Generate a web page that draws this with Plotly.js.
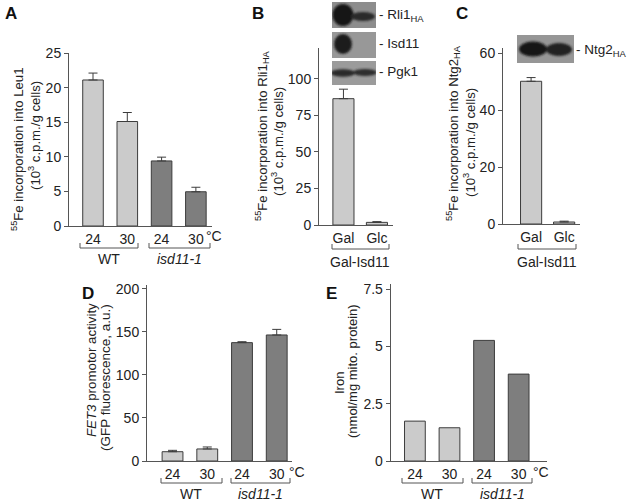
<!DOCTYPE html>
<html>
<head>
<meta charset="utf-8">
<script src="https://cdn.plot.ly/plotly-3.0.1.min.js"></script>
<style>
  html, body { margin: 0; padding: 0; background: #fff; }
  #chart { width: 628px; height: 502px; }
</style>
</head>
<body>
<div id="chart"></div>
<script>
// ---------------- DATA ----------------
const tempLabels = ['24', '30', '24', '30'];
const mediumLabels = ['Gal', 'Glc'];

const leu1Values = [21.1, 15.1, 9.4, 4.95];      // panel A
const leu1Errors = [1.0, 1.3, 0.55, 0.65];

const rli1Values = [86.5, 1.8];                  // panel B
const rli1Errors = [6.5, 0.5];

const ntg2Values = [50.2, 0.7];                  // panel C
const ntg2Errors = [1.3, 0.3];

const fet3Values = [10.8, 14.0, 137.6, 146.5];   // panel D
const fet3Errors = [1.6, 2.3, 1.1, 6.5];

const ironValues = [1.74, 1.45, 5.26, 3.79];     // panel E

// ---------------- STYLE ----------------
const W = 628, H = 502;
const LIGHT = '#cbcbcb', DARK = '#7e7e7e', EDGE = '#3c3c3c', AX = '#555555';
const FONT = 'Liberation Sans, Arial, Helvetica, sans-serif';
const groupColors = [LIGHT, LIGHT, DARK, DARK];
const px = x => x / W;
const py = y => 1 - y / H;
const xdom = (l, r) => [px(l), px(r)];
const ydom = (t, b) => [py(b), py(t)];
const idx = arr => arr.map((_, i) => i);

function barTrace(vals, errs, colors, width, xa, ya) {
  const t = {
    type: 'bar', x: idx(vals), y: vals, width: width,
    marker: { color: colors, line: { color: EDGE, width: 1 } },
    xaxis: xa, yaxis: ya, hoverinfo: 'skip', showlegend: false
  };
  if (errs) {
    t.error_y = { type: 'data', symmetric: false, array: errs,
      arrayminus: errs.map(() => 0), color: EDGE, thickness: 1, width: 4.5 };
  }
  return t;
}

const data = [
  barTrace(leu1Values, leu1Errors, groupColors, 0.6, 'x', 'y'),
  barTrace(rli1Values, rli1Errors, [LIGHT, LIGHT], 0.63, 'x2', 'y2'),
  barTrace(ntg2Values, ntg2Errors, [LIGHT, LIGHT], 0.64, 'x3', 'y3'),
  barTrace(fet3Values, fet3Errors, groupColors, 0.6, 'x4', 'y4'),
  barTrace(ironValues, null, groupColors, 0.6, 'x5', 'y5')
];

const tickFont = { family: FONT, size: 14, color: '#222' };
function xAxis(dom, range, labels, anchor) {
  return { domain: dom, range: range, anchor: anchor, showline: true, linecolor: AX,
    linewidth: 1, ticks: '', tickvals: idx(labels), ticktext: labels, tickfont: tickFont,
    showgrid: false, zeroline: false, fixedrange: true, automargin: false };
}
function yAxis(dom, range, tickvals, ticktext, anchor) {
  return { domain: dom, range: range, anchor: anchor, showline: true, linecolor: AX,
    linewidth: 1, ticks: 'outside', ticklen: 4, tickcolor: AX, tickwidth: 1,
    tickvals: tickvals, ticktext: ticktext, tickfont: tickFont,
    showgrid: false, zeroline: false, fixedrange: true, automargin: false };
}

const ann = [];
function note(text, x, y, opts) {
  ann.push(Object.assign({ text: text, x: px(x), y: py(y), xref: 'paper', yref: 'paper',
    showarrow: false, xanchor: 'center', yanchor: 'middle',
    font: { family: FONT, size: 14, color: '#222' } }, opts || {}));
}
function letter(t, x, y) { note('<b>' + t + '</b>', x, y, { font: { family: FONT, size: 17, color: '#111' } }); }
function vtitle(t, x, y, size) { note(t, x, y, { textangle: -90, font: { family: FONT, size: size || 13.2, color: '#222' } }); }

// panel letters
letter('A', 11, 14); letter('B', 258, 14); letter('C', 462, 14);
letter('D', 88, 293); letter('E', 331, 293);

// y titles
vtitle('<sup>55</sup>Fe incorporation into Leu1', 18, 149);
vtitle('(10<sup>3</sup> c.p.m./g cells)', 34, 136);
vtitle('<sup>55</sup>Fe incorporation into Rli1<sub>HA</sub>', 262, 136);
vtitle('(10<sup>3</sup> c.p.m./g cells)', 278, 142);
vtitle('<sup>55</sup>Fe incorporation into Ntg2<sub>HA</sub>', 453, 133);
vtitle('(10<sup>3</sup> c.p.m./g cells)', 470, 142);
vtitle('<i>FET3</i> promotor activity', 91, 370, 13.3);
vtitle('(GFP fluorescence, a.u.)', 105, 378, 13.5);
vtitle('Iron', 339, 383, 13);
vtitle('(nmol/mg mito. protein)', 352, 371, 13);

// degree labels
note('°C', 214, 236); note('°C', 297, 472); note('°C', 541, 472);

// bracket labels
note('WT', 109, 259); note('<i>isd11-1</i>', 179, 259);
note('Gal-Isd11', 360, 262); note('Gal-Isd11', 547, 262);
note('WT', 191, 494); note('<i>isd11-1</i>', 260, 494);
note('WT', 432, 494); note('<i>isd11-1</i>', 502, 494);

// blot labels
const blotFont = { family: FONT, size: 13.5, color: '#222' };
note('- Rli1<sub>HA</sub>', 377, 16, { xanchor: 'left', font: blotFont });
note('- Isd11', 377, 43, { xanchor: 'left', font: blotFont });
note('- Pgk1', 377, 72, { xanchor: 'left', font: blotFont });
note('- Ntg2<sub>HA</sub>', 574, 50, { xanchor: 'left', font: blotFont });

// shapes: brackets
const shapes = [];
function bracket(x1, x2, yh, yu) {
  shapes.push({ type: 'path', xref: 'paper', yref: 'paper',
    path: `M ${px(x1)} ${py(yu)} L ${px(x1)} ${py(yh)} L ${px(x2)} ${py(yh)} L ${px(x2)} ${py(yu)}`,
    line: { color: AX, width: 1 } });
}
bracket(80, 138, 248, 243); bracket(149, 210, 248, 243);
bracket(332, 389, 249, 244); bracket(518, 576, 249, 244);
bracket(161, 222, 483, 478); bracket(231, 290, 483, 478);
bracket(402, 463, 483, 478); bracket(472, 532, 483, 478);

// western-blot insets as blurred SVG pictures
function blotSVG(w, h, bg, ellipses) {
  let s = `<svg xmlns="http://www.w3.org/2000/svg" width="${w}" height="${h}" viewBox="0 0 ${w} ${h}">` +
    `<defs><filter id="b" x="-30%" y="-30%" width="160%" height="160%"><feGaussianBlur stdDeviation="1.3"/></filter></defs>` +
    `<rect x="0" y="0" width="${w}" height="${h}" fill="${bg}"/><g filter="url(#b)">`;
  ellipses.forEach(e => { s += `<ellipse cx="${e[0]}" cy="${e[1]}" rx="${e[2]}" ry="${e[3]}" fill="${e[4]}"/>`; });
  s += '</g></svg>';
  return 'data:image/svg+xml;charset=utf-8,' + encodeURIComponent(s);
}
const images = [];
function blot(x1, y1, x2, y2, bg, ellipses) {
  images.push({ source: blotSVG(x2 - x1, y2 - y1, bg, ellipses), xref: 'paper', yref: 'paper',
    x: px(x1), y: py(y1), sizex: (x2 - x1) / W, sizey: (y2 - y1) / H,
    xanchor: 'left', yanchor: 'top', sizing: 'stretch', layer: 'above' });
}
blot(332, 2, 376, 28, '#8d8d8d', [[11, 13, 10.5, 11, '#141414'], [31, 14.5, 12, 4.5, '#2b2b2b']]);
blot(332, 32, 376, 58, '#989898', [[11, 12, 9, 10, '#1c1c1c']]);
blot(332, 61, 376, 85, '#9b9b9b', [[11, 12, 12, 3.8, '#2a2a2a'], [33, 11.5, 12, 3.5, '#2d2d2d']]);
blot(517, 35, 574, 63, '#969696', [[16, 14, 14, 7.5, '#181818'], [42, 14.5, 13, 6.5, '#222222']]);

const layout = {
  width: W, height: H, margin: { l: 0, r: 0, t: 0, b: 0 },
  paper_bgcolor: '#fff', plot_bgcolor: 'rgba(0,0,0,0)', showlegend: false,
  bargap: 0,
  font: { family: FONT, size: 14, color: '#222' },
  xaxis:  xAxis(xdom(69, 212), [-0.7, 3.47], tempLabels, 'y'),
  yaxis:  yAxis(ydom(53, 226), [0, 25], [0, 5, 10, 15, 20, 25], ['0', '5', '10', '15', '20', '25'], 'x'),
  xaxis2: xAxis(xdom(319, 393), [-0.73, 1.48], mediumLabels, 'y2'),
  yaxis2: yAxis(ydom(48, 225), [0, 121.2], [0, 25, 50, 75, 100], ['0', '25', '50', '75', '100'], 'x2'),
  xaxis3: xAxis(xdom(503, 580), [-0.85, 1.48], mediumLabels, 'y3'),
  yaxis3: yAxis(ydom(48, 224), [0, 61.9], [0, 20, 40, 60], ['0', '20', '40', '60'], 'x3'),
  xaxis4: xAxis(xdom(147, 292), [-0.735, 3.44], tempLabels, 'y4'),
  yaxis4: yAxis(ydom(285, 461), [0, 204.6], [0, 50, 100, 150, 200], ['0', '50', '100', '150', '200'], 'x4'),
  xaxis5: xAxis(xdom(390.7, 547), [-0.70, 3.82], tempLabels, 'y5'),
  yaxis5: yAxis(ydom(284, 461), [0, 7.72], [0, 2.5, 5, 7.5], ['0', '2.5', '5', '7.5'], 'x5'),
  annotations: ann,
  shapes: shapes,
  images: images
};

Plotly.newPlot('chart', data, layout, { staticPlot: true, displayModeBar: false });
</script>
</body>
</html>
